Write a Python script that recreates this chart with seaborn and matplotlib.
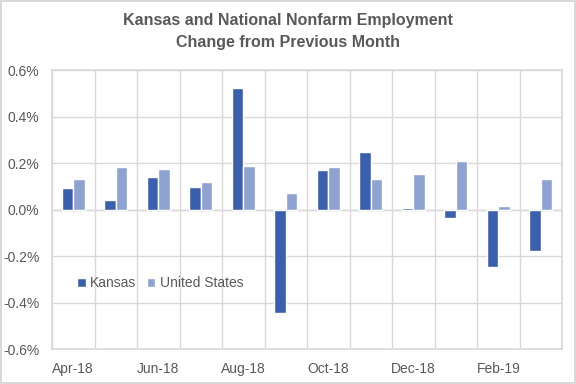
import seaborn as sns
import matplotlib.pyplot as plt
import pandas as pd
from matplotlib.ticker import FuncFormatter

# data (percent change from previous month)
months = ["Apr-18", "May-18", "Jun-18", "Jul-18", "Aug-18", "Sep-18",
          "Oct-18", "Nov-18", "Dec-18", "Jan-19", "Feb-19", "Mar-19"]
kansas = [0.092, 0.039, 0.138, 0.096, 0.522, -0.447,
          0.168, 0.246, 0.006, -0.037, -0.249, -0.180]
united_states = [0.130, 0.181, 0.173, 0.117, 0.186, 0.069,
                 0.181, 0.130, 0.151, 0.207, 0.016, 0.130]
yticks = [-0.6, -0.4, -0.2, 0.0, 0.2, 0.4, 0.6]

df = pd.DataFrame({
    "month": months * 2,
    "value": kansas + united_states,
    "series": ["Kansas"] * len(months) + ["United States"] * len(months),
})

sns.set_theme(style="white")
plt.rcParams["font.family"] = ["Liberation Sans", "DejaVu Sans"]

grey = "#595959"
grid_c = "#D9D9D9"

fig = plt.figure(figsize=(5.76, 3.84), dpi=100)
fig.patch.set_edgecolor(grid_c)
fig.patch.set_linewidth(1.5)
ax = fig.add_axes([0.0903, 0.0911, 0.8854, 0.7266])

sns.barplot(data=df, x="month", y="value", hue="series", order=months,
            palette=["#3A5FAD", "#8FA3D3"], width=0.55, gap=0,
            saturation=1, errorbar=None, ax=ax)

ax.set_ylim(-0.6, 0.6)
ax.set_xlim(-0.5, len(months) - 0.5)
ax.set_yticks(yticks)
ax.yaxis.set_major_formatter(FuncFormatter(lambda v, p: f"{v:.1f}%"))
ax.set_xticks(range(0, len(months), 2))
ax.set_xticklabels(months[::2])
ax.set_xticks([i - 0.5 for i in range(len(months) + 1)], minor=True)
ax.grid(axis="y", which="major", color=grid_c, lw=1)
ax.grid(axis="x", which="minor", color=grid_c, lw=1)
ax.set_axisbelow(True)
ax.axhline(0, color=grid_c, lw=1, zorder=0)
for s in ax.spines.values():
    s.set_color(grid_c)
ax.tick_params(which="both", length=0, colors=grey, labelsize=10, pad=9)
ax.set_xlabel("")
ax.set_ylabel("")

fig.suptitle("Kansas and National Nonfarm Employment\nChange from Previous Month",
             y=0.965, fontsize=11.5, fontweight="bold", color=grey, linespacing=1.55)

ax.legend(loc="center left", bbox_to_anchor=(0.025, 0.235), frameon=False,
          ncol=2, fontsize=10, handlelength=0.6, handleheight=0.6,
          handletextpad=0.3, columnspacing=0.8, labelcolor=grey)

fig.savefig("out.png", dpi=100)
